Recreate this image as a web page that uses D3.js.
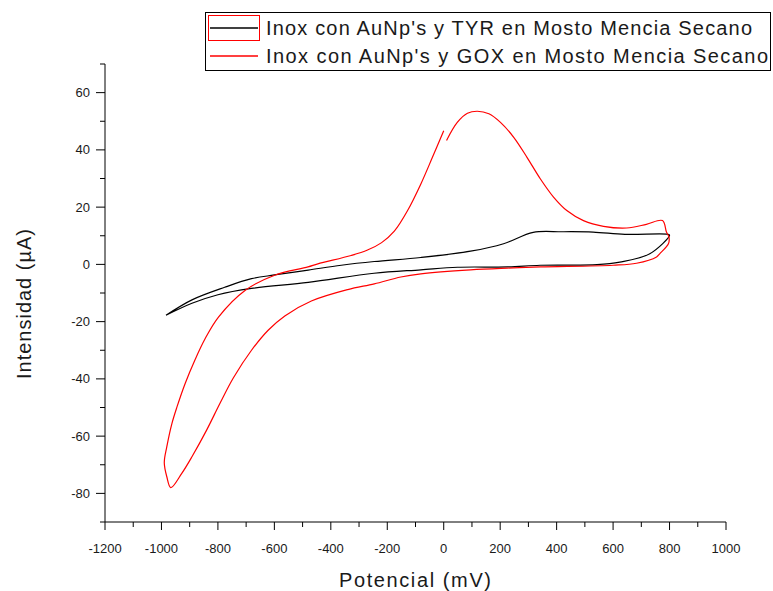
<!DOCTYPE html>
<html lang="es">
<head>
<meta charset="UTF-8">
<title>Inox con AuNp's - Mosto Mencia Secano</title>
<script src="https://d3js.org/d3.v7.min.js"></script>
<style>
    body { margin: 0; background: #fff; }
    svg { display: block; font-family: "Liberation Sans", Arial, sans-serif; }
    .tick-label { font-size: 13px; fill: #1a1a1a; }
    .axis-title { font-size: 20px; fill: #1a1a1a; }
    .legend-text { font-size: 20px; fill: #1a1a1a; }
    .curve { fill: none; stroke-width: 1.2px; stroke-linejoin: round; }
</style>
</head>
<body>
<div id="chart"></div>
<script>
// Series: TYR (black) - closed voltammetric loop
const tyrPotential = [-984, -892, -776, -681, -600, -480, -363, -246, -81, 95, 212, 317, 420, 529, 642, 794, 800,
                      730, 624, 543, 342, 226, 49, -81, -247, -480, -681, -800, -892, -984];
const tyrCurrent   = [-17.8, -12.4, -8.0, -5.0, -3.7, -2.0, -0.3, 1.0, 2.4, 4.6, 7.2, 11.2, 11.4, 11.3, 10.5, 10.5, 10.2,
                      3.7, 0.8, -0.1, -0.3, -0.9, -1.0, -1.9, -3.1, -6.3, -8.4, -10.6, -13.6, -17.8];

// Series: GOX (red) - starts near 0 mV and returns near 0 mV
const goxPotential = [10, 48, 84, 119, 160, 201, 248, 295, 342, 389, 436, 495, 566, 648, 718, 775, 789, 798, 796, 765,
                      754, 683, 600, 342, 225, 95, -81, -152, -246, -340, -469, -563, -622, -681, -745, -793, -840,
                      -892, -928, -967, -981, -990, -981, -963, -945, -916, -881, -845, -798, -704, -599, -481, -446,
                      -328, -270, -220, -175, -128, -81, -40, 0];
const goxCurrent   = [43.3, 49.6, 52.8, 53.5, 52.6, 49.6, 44.4, 37.4, 29.9, 23.5, 18.8, 15.3, 13.3, 12.7, 14.0, 15.3, 11.3, 9.5, 7.2, 3.7,
                      2.6, 0.4, -0.3, -0.9, -1.3, -1.9, -3.3, -4.4, -6.8, -8.8, -12.8, -18.0, -23.0, -30.0, -39.6, -48.6, -57.9,
                      -67.2, -73.0, -78.0, -74.2, -69.3, -63.7, -55.6, -49.8, -41.6, -33.3, -25.9, -18.4, -9.1, -3.8, -0.9, 0.2,
                      3.1, 5.0, 7.6, 11.6, 18.8, 28.1, 37.4, 46.7];

const xMajorTicks = d3.range(-1200, 1001, 200);
const xMinorTicks = d3.range(-1100, 1000, 200);
const yMajorTicks = d3.range(-80, 61, 20);
const yMinorTicks = d3.range(-90, 71, 20);

const legendLabels = ["Inox con AuNp's y TYR en Mosto Mencia Secano",
                      "Inox con AuNp's y GOX en Mosto Mencia Secano"];
const seriesColors = ["#000000", "#ff0000"];

const W = 773, H = 591;
const svg = d3.select("#chart").append("svg")
    .attr("width", W).attr("height", H);

// scales
const x = d3.scaleLinear().domain([-1200, 1000]).range([105, 726]);
const y = d3.scaleLinear().domain([-90, 70]).range([522, 64]);

const axisColor = "#000";

// y axis line + ticks
svg.append("line")
    .attr("x1", x(-1200)).attr("x2", x(-1200))
    .attr("y1", y(70)).attr("y2", y(-90))
    .attr("stroke", axisColor);
svg.selectAll(".ymaj").data(yMajorTicks).enter().append("line")
    .attr("x1", x(-1200) - 9).attr("x2", x(-1200))
    .attr("y1", d => y(d)).attr("y2", d => y(d))
    .attr("stroke", axisColor);
svg.selectAll(".ymin").data(yMinorTicks).enter().append("line")
    .attr("x1", x(-1200) - 5).attr("x2", x(-1200))
    .attr("y1", d => y(d)).attr("y2", d => y(d))
    .attr("stroke", axisColor);
svg.selectAll(".ylab").data(yMajorTicks).enter().append("text")
    .attr("class", "tick-label")
    .attr("x", x(-1200) - 15)
    .attr("y", d => y(d))
    .attr("dy", "0.35em")
    .attr("text-anchor", "end")
    .text(d => d);

// x axis line + ticks
svg.append("line")
    .attr("x1", x(-1200)).attr("x2", x(1000))
    .attr("y1", y(-90)).attr("y2", y(-90))
    .attr("stroke", axisColor);
svg.selectAll(".xmaj").data(xMajorTicks).enter().append("line")
    .attr("x1", d => x(d)).attr("x2", d => x(d))
    .attr("y1", y(-90)).attr("y2", y(-90) + 8)
    .attr("stroke", axisColor);
svg.selectAll(".xmin").data(xMinorTicks).enter().append("line")
    .attr("x1", d => x(d)).attr("x2", d => x(d))
    .attr("y1", y(-90)).attr("y2", y(-90) + 5)
    .attr("stroke", axisColor);
svg.selectAll(".xlab").data(xMajorTicks).enter().append("text")
    .attr("class", "tick-label")
    .attr("x", d => x(d))
    .attr("y", y(-90) + 31)
    .attr("text-anchor", "middle")
    .text(d => d);

// axis titles
svg.append("text")
    .attr("class", "axis-title")
    .attr("x", 415).attr("y", 587)
    .attr("text-anchor", "middle")
    .attr("textLength", 152).attr("lengthAdjust", "spacing")
    .text("Potencial (mV)");
svg.append("text")
    .attr("class", "axis-title")
    .attr("transform", "translate(31,304) rotate(-90)")
    .attr("text-anchor", "middle")
    .attr("textLength", 150).attr("lengthAdjust", "spacing")
    .text("Intensidad (\u00b5A)");

// curves
const line = d3.line()
    .x(d => x(d[0])).y(d => y(d[1]))
    .curve(d3.curveCatmullRom.alpha(0.5));

const tyr = tyrPotential.map((v, i) => [v, tyrCurrent[i]]);
const gox = goxPotential.map((v, i) => [v, goxCurrent[i]]);

svg.append("path").datum(tyr).attr("class", "curve")
    .attr("stroke", seriesColors[0]).attr("d", line);
svg.append("path").datum(gox).attr("class", "curve")
    .attr("stroke", seriesColors[1]).attr("d", line);

// legend
const lg = svg.append("g");
lg.append("rect")
    .attr("x", 205.5).attr("y", 12.5).attr("width", 565).attr("height", 58)
    .attr("fill", "#fff").attr("stroke", "#000");
// selection box around the first sample (as in the original export)
lg.append("rect")
    .attr("x", 208.5).attr("y", 15.5).attr("width", 51).attr("height", 25)
    .attr("fill", "none").attr("stroke", "#ff0000");
legendLabels.forEach((lab, i) => {
    const cy = 28 + i * 28;
    lg.append("line")
        .attr("x1", 210).attr("x2", 258)
        .attr("y1", cy).attr("y2", cy)
        .attr("stroke", seriesColors[i]).attr("stroke-width", 1.3);
    lg.append("text")
        .attr("class", "legend-text")
        .attr("x", 266).attr("y", cy + 7)
        .attr("textLength", i === 0 ? 486 : 502).attr("lengthAdjust", "spacing")
        .text(lab);
});
</script>
</body>
</html>
